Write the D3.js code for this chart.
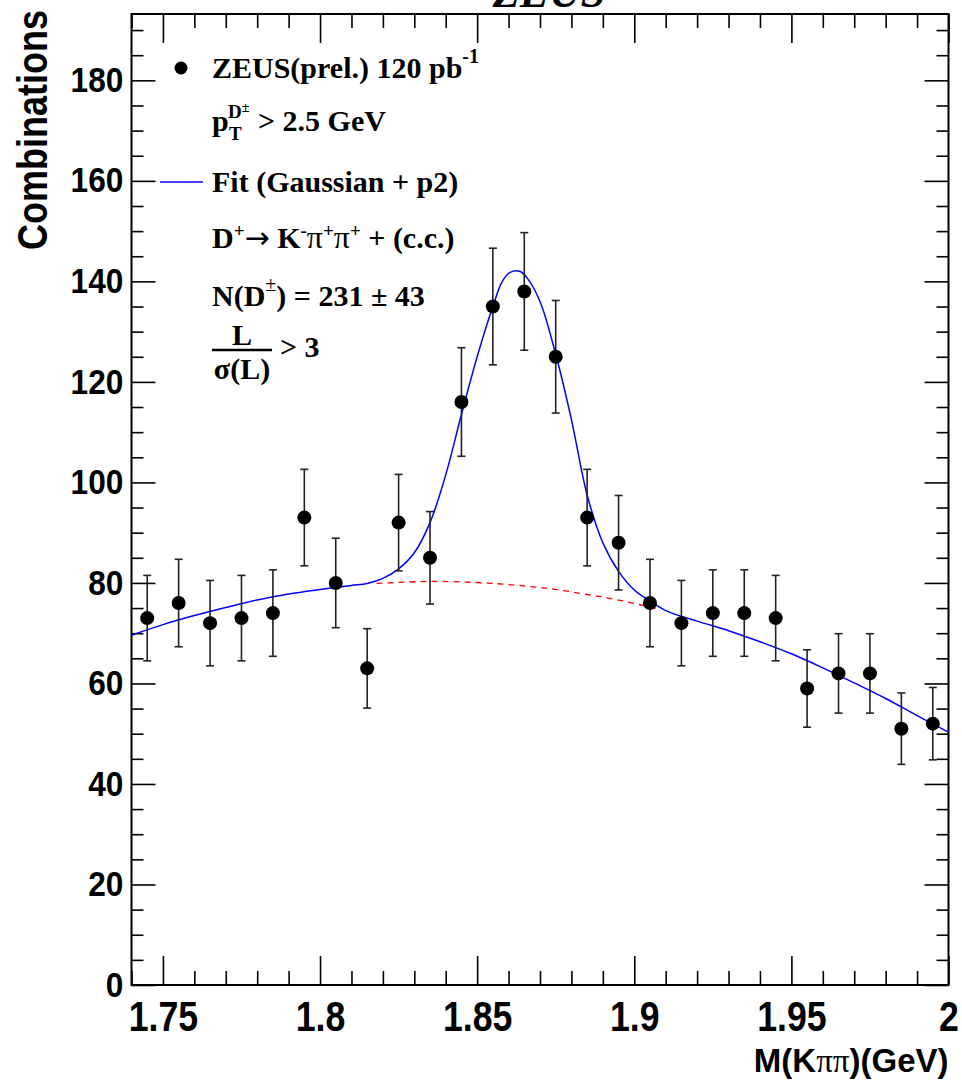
<!DOCTYPE html>
<html><head><meta charset="utf-8">
<script src="https://cdn.jsdelivr.net/npm/d3@7/dist/d3.min.js"></script>
<style>body{margin:0;background:#fff} svg{display:block}</style>
</head><body>
<svg id="chart" width="962" height="1080"></svg>
<script>
// ---- data ----
const binCenters = [1.745,1.755,1.765,1.775,1.785,1.795,1.805,1.815,1.825,1.835,1.845,1.855,1.865,1.875,1.885,1.895,1.905,1.915,1.925,1.935,1.945,1.955,1.965,1.975,1.985,1.995];
const counts     = [73,76,72,73,74,93,80,63,92,85,116,135,138,125,93,88,76,72,74,74,73,59,62,62,51,52];
const errors     = [8.5,8.7,8.5,8.5,8.6,9.6,8.9,7.9,9.6,9.2,10.8,11.6,11.7,11.2,9.6,9.4,8.7,8.5,8.6,8.6,8.5,7.7,7.9,7.9,7.1,7.2];
// fit curve (Gaussian + p2)
const fitX = [1.740,1.750,1.760,1.770,1.780,1.790,1.800,1.810,1.815,1.820,1.825,1.830,1.835,1.840,1.845,1.850,1.855,1.858,1.8605,1.8635,1.866,1.870,1.875,1.880,1.885,1.890,1.895,1.900,1.905,1.910,1.920,1.930,1.940,1.950,1.960,1.970,1.980,1.990,2.000];
const fitY = [69.6,71.7,73.5,75.1,76.6,77.8,78.7,79.5,79.9,80.9,82.8,86.0,92.0,101.5,113.5,125.0,135.0,140.0,141.8,142.0,140.6,136.0,125.5,112.5,97.5,88.0,82.3,78.6,76.4,74.5,72.4,70.5,68.3,65.9,63.1,60.1,57.0,53.6,50.3];
// background (p2) shown dashed under the peak
const bgX = [1.818,1.825,1.835,1.845,1.855,1.865,1.875,1.885,1.895,1.907];
const bgY = [79.9,80.1,80.3,80.2,79.9,79.4,78.7,77.7,76.6,74.9];
const xMajorTicks = [1.75,1.8,1.85,1.9,1.95,2.0];
const xTickLabels = ["1.75","1.8","1.85","1.9","1.95","2"];
const yMajorTicks = [0,20,40,60,80,100,120,140,160,180];
const yTickLabels = ["0","20","40","60","80","100","120","140","160","180"];
const xDomain = [1.74, 2.0];
const yDomain = [0, 193.2];

// ---- layout ----
const L = 131.5, R = 948.5, T = 14, B = 985;
const svg = d3.select("#chart");
const x = d3.scaleLinear().domain(xDomain).range([L, R]);
const y = d3.scaleLinear().domain(yDomain).range([B, T]);
const sans = "'Liberation Sans', Arial, sans-serif";
const serif = "'Liberation Serif', 'Times New Roman', serif";

const xMinor = d3.range(0, 27).map(i => 1.74 + i * 0.01).filter(v => !xMajorTicks.some(m => Math.abs(m - v) < 1e-6));
const yMinor = d3.range(0, 39).map(i => i * 5).filter(v => v % 20 !== 0);

function strip(g){ g.select(".domain").remove(); g.selectAll("line").attr("stroke","#000").attr("stroke-width",1.6); }

// bottom axis
svg.append("g").attr("transform",`translate(0,${B})`)
  .call(d3.axisBottom(x).tickValues(xMajorTicks).tickSizeInner(-29).tickSizeOuter(0).tickPadding(16)
        .tickFormat((d,i)=>xTickLabels[i]))
  .call(strip)
  .call(g=>g.selectAll("text").attr("font-family",sans).attr("font-weight","bold")
        .attr("font-size",42).attr("fill","#000").attr("transform","scale(0.85,1)"));
svg.append("g").attr("transform",`translate(0,${B})`)
  .call(d3.axisBottom(x).tickValues(xMinor).tickSizeInner(-14).tickSizeOuter(0).tickFormat(""))
  .call(strip);
// top axis
svg.append("g").attr("transform",`translate(0,${T})`)
  .call(d3.axisTop(x).tickValues(xMajorTicks).tickSizeInner(-29).tickSizeOuter(0).tickFormat(""))
  .call(strip);
svg.append("g").attr("transform",`translate(0,${T})`)
  .call(d3.axisTop(x).tickValues(xMinor).tickSizeInner(-14).tickSizeOuter(0).tickFormat(""))
  .call(strip);
// left axis
svg.append("g").attr("transform",`translate(${L},0)`)
  .call(d3.axisLeft(y).tickValues(yMajorTicks).tickSizeInner(-24).tickSizeOuter(0).tickPadding(8)
        .tickFormat((d,i)=>yTickLabels[i]))
  .call(strip)
  .call(g=>g.selectAll("text").attr("font-family",sans).attr("font-weight","bold")
        .attr("font-size",31).attr("fill","#000").attr("transform","scale(1.02,1.12)"));
svg.append("g").attr("transform",`translate(${L},0)`)
  .call(d3.axisLeft(y).tickValues(yMinor).tickSizeInner(-12).tickSizeOuter(0).tickFormat(""))
  .call(strip);
// right axis
svg.append("g").attr("transform",`translate(${R},0)`)
  .call(d3.axisRight(y).tickValues(yMajorTicks).tickSizeInner(-24).tickSizeOuter(0).tickFormat(""))
  .call(strip);
svg.append("g").attr("transform",`translate(${R},0)`)
  .call(d3.axisRight(y).tickValues(yMinor).tickSizeInner(-12).tickSizeOuter(0).tickFormat(""))
  .call(strip);

// frame
svg.append("rect").attr("x",L).attr("y",T).attr("width",R-L).attr("height",B-T)
  .attr("fill","none").attr("stroke","#000").attr("stroke-width",2);

// axis titles
svg.append("text").attr("x",R).attr("y",1072).attr("text-anchor","end")
  .attr("font-family",sans).attr("font-weight","bold").attr("font-size",33)
  .html(`M(K<tspan font-family="${serif}" font-weight="normal">ππ</tspan>)(GeV)`);
svg.append("text").attr("transform","translate(47,10) rotate(-90) scale(1,1.2)").attr("text-anchor","end")
  .attr("font-family",sans).attr("font-weight","bold").attr("font-size",36)
  .text("Combinations");
// top title (mostly clipped, as in the reference)
svg.append("text").attr("x",549).attr("y",7).attr("text-anchor","middle")
  .attr("font-family",serif).attr("font-weight","bold").attr("font-style","italic").attr("font-size",44)
  .text("ZEUS");

// background dashed
svg.append("path").datum(bgX.map((v,i)=>[v,bgY[i]]))
  .attr("d",d3.line().x(d=>x(d[0])).y(d=>y(d[1])).curve(d3.curveCatmullRom.alpha(0.5)))
  .attr("fill","none").attr("stroke","#ff0000").attr("stroke-width",1.3).attr("stroke-dasharray","6,5");
// fit curve
svg.append("path").datum(fitX.map((v,i)=>[v,fitY[i]]))
  .attr("d",d3.line().x(d=>x(d[0])).y(d=>y(d[1])).curve(d3.curveCatmullRom.alpha(0.5)))
  .attr("fill","none").attr("stroke","#0000ff").attr("stroke-width",1.5);

// data points with error bars
const pts = binCenters.map((c,i)=>({x:c, v:counts[i], e:errors[i]}));
const pg = svg.append("g");
pg.selectAll("line.eb").data(pts).join("line").attr("class","eb")
  .attr("x1",d=>x(d.x)).attr("x2",d=>x(d.x)).attr("y1",d=>y(d.v-d.e)).attr("y2",d=>y(d.v+d.e))
  .attr("stroke","#222").attr("stroke-width",1.6);
pg.selectAll("line.cap1").data(pts).join("line").attr("class","cap1")
  .attr("x1",d=>x(d.x)-4).attr("x2",d=>x(d.x)+4).attr("y1",d=>y(d.v+d.e)).attr("y2",d=>y(d.v+d.e))
  .attr("stroke","#222").attr("stroke-width",1.6);
pg.selectAll("line.cap2").data(pts).join("line").attr("class","cap2")
  .attr("x1",d=>x(d.x)-4).attr("x2",d=>x(d.x)+4).attr("y1",d=>y(d.v-d.e)).attr("y2",d=>y(d.v-d.e))
  .attr("stroke","#222").attr("stroke-width",1.6);
pg.selectAll("circle").data(pts).join("circle")
  .attr("cx",d=>x(d.x)).attr("cy",d=>y(d.v)).attr("r",7).attr("fill","#000");

// legend / annotations
const lg = svg.append("g").attr("font-family",serif).attr("font-weight","bold").attr("fill","#000");
lg.append("circle").attr("cx",181).attr("cy",68).attr("r",6.5).attr("fill","#000");
lg.append("text").attr("x",212).attr("y",78).attr("font-size",30)
  .html(`ZEUS(prel.) 120 pb<tspan dy="-15" font-size="20">-1</tspan>`);
lg.append("text").attr("x",212).attr("y",131).attr("font-size",30).text("p");
lg.append("text").attr("x",229).attr("y",140).attr("font-size",19).text("T");
lg.append("text").attr("x",228).attr("y",118).attr("font-size",19)
  .html(`D<tspan dy="-6" font-size="14">±</tspan>`);
lg.append("text").attr("x",258).attr("y",131).attr("font-size",30).text("> 2.5 GeV");
lg.append("line").attr("x1",160).attr("x2",203).attr("y1",182).attr("y2",182)
  .attr("stroke","#0000ff").attr("stroke-width",1.5);
lg.append("text").attr("x",212).attr("y",192).attr("font-size",30).text("Fit (Gaussian + p2)");
lg.append("text").attr("x",212).attr("y",248).attr("font-size",30)
  .html(`D<tspan dy="-11" font-size="19">+</tspan><tspan dy="11" font-family="'DejaVu Sans', sans-serif" font-weight="normal" font-size="30">→</tspan><tspan>&#160;K</tspan><tspan dy="-11" font-size="19">-</tspan><tspan dy="11" font-weight="normal" font-size="32">π</tspan><tspan dy="-11" font-size="19">+</tspan><tspan dy="11" font-weight="normal" font-size="32">π</tspan><tspan dy="-11" font-size="19">+</tspan><tspan dy="11">&#160;+ (c.c.)</tspan>`);
lg.append("text").attr("x",212).attr("y",306).attr("font-size",30)
  .html(`N(D<tspan dy="-15" font-size="20" font-weight="normal">±</tspan><tspan dy="15">) = 231 ± 43</tspan>`);
lg.append("text").attr("x",242).attr("y",345).attr("font-size",30).attr("text-anchor","middle").text("L");
lg.append("line").attr("x1",212).attr("x2",272).attr("y1",350).attr("y2",350).attr("stroke","#000").attr("stroke-width",2.5);
lg.append("text").attr("x",242).attr("y",379).attr("font-size",30).attr("text-anchor","middle").text("σ(L)");
lg.append("text").attr("x",280).attr("y",357).attr("font-size",30).text("> 3");
</script>
</body></html>
